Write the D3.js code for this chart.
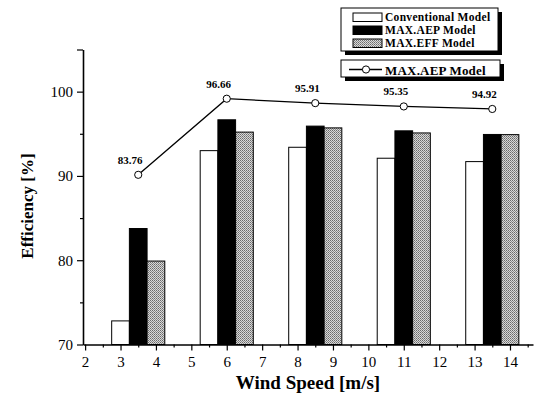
<!DOCTYPE html>
<html>
<head>
<meta charset="utf-8">
<script src="https://cdn.jsdelivr.net/npm/d3@7/dist/d3.min.js"></script>
<style>
  html, body { margin: 0; padding: 0; background: #fff; }
  svg { display: block; }
  text { font-family: "Liberation Serif", "Times New Roman", serif; fill: #000; }
</style>
</head>
<body>
<svg id="chart" width="547" height="401"></svg>
<script>
// ---- data ----
const windSpeeds   = [3.5, 6, 8.5, 11, 13.5];          // group centres [m/s]
const conventional = [72.8, 93.0, 93.4, 92.1, 91.7];
const maxAEP       = [83.76, 96.66, 95.91, 95.35, 94.92];
const maxEFF       = [79.9, 95.2, 95.7, 95.1, 94.9];
const lineValues   = [83.76, 96.66, 95.91, 95.35, 94.92]; // MAX.AEP line (secondary scale)
const xTicks       = [2, 3, 4, 5, 6, 7, 8, 9, 10, 11, 12, 13, 14];
const yTicks       = [70, 80, 90, 100];
const barSeries    = ["Conventional Model", "MAX.AEP Model", "MAX.EFF Model"];
const lineSeries   = "MAX.AEP Model";

// ---- setup ----
const svg = d3.select("#chart");
const defs = svg.append("defs");
const pat = defs.append("pattern").attr("id", "halftone")
  .attr("width", 2).attr("height", 2).attr("patternUnits", "userSpaceOnUse");
pat.append("rect").attr("width", 2).attr("height", 2).attr("fill", "#d8d8d8");
pat.append("rect").attr("width", 1).attr("height", 1).attr("fill", "#6a6a6a");
pat.append("rect").attr("x", 1).attr("y", 1).attr("width", 1).attr("height", 1).attr("fill", "#8a8a8a");

const x  = d3.scaleLinear().domain([1.94, 14.65]).range([83, 533]);
const y  = d3.scaleLinear().domain([70, 105]).range([344.5, 49.5]);
const y2 = d3.scaleLinear().domain([55, 105]).range([344.5, 49.5]);
const barW = 0.5; // in wind-speed units

const fills = ["#ffffff", "#000000", "url(#halftone)"];
const seriesData = [conventional, maxAEP, maxEFF];

// ---- bars ----
const gBars = svg.append("g");
seriesData.forEach((vals, si) => {
  gBars.selectAll(null).data(vals).enter().append("rect")
    .attr("x", (d, i) => x(windSpeeds[i] + (si - 1) * barW - barW / 2))
    .attr("width", (d, i) => x(windSpeeds[i] + (si - 1) * barW + barW / 2) - x(windSpeeds[i] + (si - 1) * barW - barW / 2))
    .attr("y", d => y(d))
    .attr("height", d => y(70) - y(d))
    .attr("fill", fills[si])
    .attr("stroke", "#000")
    .attr("stroke-width", 1);
});

// ---- axes ----
const xMinor = d3.range(2.5, 14.6, 1);
svg.append("g").attr("transform", `translate(0,${y(70)})`)
  .call(d3.axisBottom(x).tickValues(xMinor).tickSize(3).tickFormat(""))
  .call(g => g.select(".domain").remove())
  .call(g => g.selectAll("line").attr("stroke-width", 1.2));
const xAxis = svg.append("g").attr("transform", `translate(0,${y(70)})`)
  .call(d3.axisBottom(x).tickValues(xTicks).tickSize(6).tickSizeOuter(0).tickPadding(6).tickFormat(d3.format("d")));
xAxis.select(".domain").attr("stroke-width", 1.6);
xAxis.selectAll("line").attr("stroke-width", 1.2);
xAxis.selectAll("text").style("font-size", "15px").attr("font-family", "Liberation Serif");

const yMinor = [75, 85, 95];
svg.append("g").attr("transform", `translate(${x(1.94)},0)`)
  .call(d3.axisLeft(y).tickValues(yMinor).tickSize(3).tickFormat(""))
  .call(g => g.select(".domain").remove())
  .call(g => g.selectAll("line").attr("stroke-width", 1.2));
const yAxis = svg.append("g").attr("transform", `translate(${x(1.94)},0)`)
  .call(d3.axisLeft(y).tickValues(yTicks.concat([105])).tickSize(6).tickSizeOuter(0).tickPadding(4)
    .tickFormat(d => yTicks.includes(d) ? d : ""));
yAxis.select(".domain").attr("stroke-width", 1.6);
yAxis.selectAll("line").attr("stroke-width", 1.2);
yAxis.selectAll("text").style("font-size", "15px").attr("font-family", "Liberation Serif");

// axis titles
svg.append("text").attr("x", 308).attr("y", 389).attr("text-anchor", "middle")
  .style("font-size", "19px").style("font-weight", "bold").text("Wind Speed [m/s]");
svg.append("text").attr("transform", "translate(33,206) rotate(-90)").attr("text-anchor", "middle")
  .style("font-size", "17px").style("font-weight", "bold").text("Efficiency [%]");

// ---- line (secondary scale) ----
const line = d3.line().x((d, i) => x(windSpeeds[i])).y(d => y2(d));
svg.append("path").datum(lineValues).attr("d", line)
  .attr("fill", "none").attr("stroke", "#000").attr("stroke-width", 1.3);
svg.selectAll(null).data(lineValues).enter().append("circle")
  .attr("cx", (d, i) => x(windSpeeds[i])).attr("cy", d => y2(d)).attr("r", 3.6)
  .attr("fill", "#fff").attr("stroke", "#000").attr("stroke-width", 1);
svg.selectAll(null).data(lineValues).enter().append("text")
  .attr("x", (d, i) => x(windSpeeds[i]) - 8).attr("y", d => y2(d) - 11)
  .attr("text-anchor", "middle").style("font-size", "11px").style("font-weight", "bold")
  .text(d => d.toFixed(2));

// ---- legends ----
const lg = svg.append("g");
lg.append("rect").attr("x", 345).attr("y", 12).attr("width", 157).attr("height", 43).attr("fill", "#000");
lg.append("rect").attr("x", 341).attr("y", 8).attr("width", 157).attr("height", 43)
  .attr("fill", "#fff").attr("stroke", "#000").attr("stroke-width", 1);
barSeries.forEach((name, i) => {
  lg.append("rect").attr("x", 353).attr("y", 13 + i * 13).attr("width", 29).attr("height", 8.5)
    .attr("fill", fills[i]).attr("stroke", "#000").attr("stroke-width", 1);
  lg.append("text").attr("x", 385).attr("y", 21 + i * 13)
    .style("font-size", "11.5px").style("font-weight", "bold").style("letter-spacing", "0.3px").text(name);
});
lg.append("rect").attr("x", 345).attr("y", 64).attr("width", 159).attr("height", 17).attr("fill", "#000");
lg.append("rect").attr("x", 341).attr("y", 60).attr("width", 159).attr("height", 17)
  .attr("fill", "#fff").attr("stroke", "#000").attr("stroke-width", 1);
lg.append("line").attr("x1", 349).attr("x2", 382).attr("y1", 69.5).attr("y2", 69.5)
  .attr("stroke", "#000").attr("stroke-width", 1.3);
lg.append("circle").attr("cx", 366).attr("cy", 69.5).attr("r", 3.6)
  .attr("fill", "#fff").attr("stroke", "#000");
lg.append("text").attr("x", 385).attr("y", 74.5)
  .style("font-size", "13px").style("font-weight", "bold").style("letter-spacing", "0.2px").text(lineSeries);
</script>
</body>
</html>
